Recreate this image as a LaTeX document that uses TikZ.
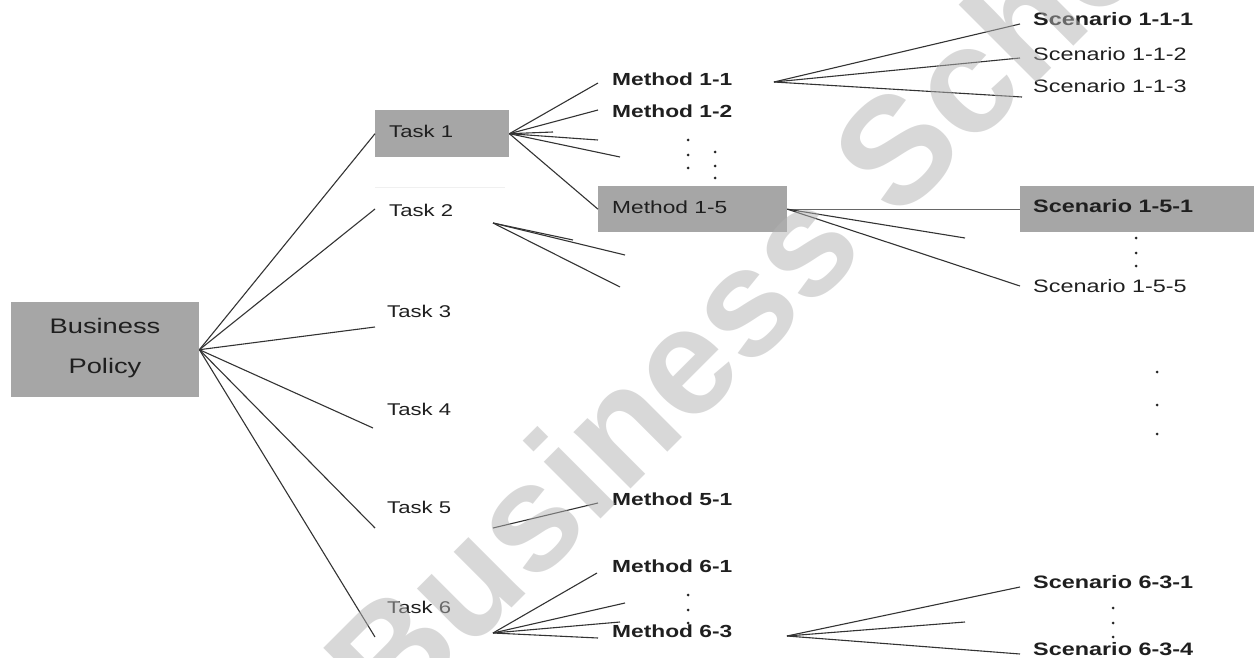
\documentclass[tikz,border=0pt]{standalone}
\usepackage{fontspec}
\setmainfont{Liberation Sans}[FakeStretch=1.3]
\newfontfamily\wmfont{Liberation Sans}
\begin{document}
\begin{tikzpicture}[x=1pt,y=-1pt,
  conn/.style={draw=black!80,line width=1.1pt},
  gbox/.style={fill=boxgray,draw=none,inner sep=0pt,anchor=north west},
  txt/.style={anchor=base west,inner sep=0pt,text=black!88},
  tasktxt/.style={txt,font=\fontsize{17}{17}\selectfont},
  methb/.style={txt,font=\fontsize{17.5}{17.5}\selectfont\bfseries},
  methn/.style={txt,font=\fontsize{17.5}{17.5}\selectfont},
  scenb/.style={txt,font=\fontsize{18}{18}\selectfont\bfseries},
  scenn/.style={txt,font=\fontsize{18}{18}\selectfont},
  dotc/.style={fill=black!85,draw=none,circle,inner sep=0pt,minimum size=3pt}
]
\definecolor{boxgray}{HTML}{A6A6A6}
\useasboundingbox (0,0) rectangle (1254,658);

% boxes
\node[gbox,minimum width=188pt,minimum height=95pt] (bp) at (11,302) {};
\node[gbox,minimum width=134pt,minimum height=47pt] (t1box) at (375,110) {};
\node[gbox,minimum width=189pt,minimum height=46pt] (m15box) at (598,186) {};
\node[gbox,minimum width=234pt,minimum height=46pt] (s151box) at (1020,186) {};
\draw[black!6,line width=1pt] (375,188) -- (505,188);

% texts
\node[inner sep=0pt,text=black!88,font=\fontsize{21}{21}\selectfont,anchor=base] (bptxt1) at (105,333) {Business};
\node[inner sep=0pt,text=black!88,font=\fontsize{21}{21}\selectfont,anchor=base] (bptxt2) at (105,373) {Policy};
\node[tasktxt] (t1) at (389,138) {Task 1};
\node[tasktxt] (t2) at (389,217) {Task 2};
\node[tasktxt] (t3) at (387,317) {Task 3};
\node[tasktxt] (t4) at (387,415) {Task 4};
\node[tasktxt] (t5) at (387,513) {Task 5};
\node[tasktxt] (t6) at (387,613) {Task 6};
\node[methb] (m11) at (612,86) {Method 1-1};
\node[methb] (m12) at (612,118) {Method 1-2};
\node[methn] (m15) at (612,214) {Method 1-5};
\node[methb] (m51) at (612,505) {Method 5-1};
\node[methb] (m61) at (612,572) {Method 6-1};
\node[methb] (m63) at (612,637) {Method 6-3};
\node[scenb] (s111) at (1033,26) {Scenario 1-1-1};
\node[scenn] (s112) at (1033,61) {Scenario 1-1-2};
\node[scenn] (s113) at (1033,93) {Scenario 1-1-3};
\node[scenb] (s151) at (1033,213) {Scenario 1-5-1};
\node[scenn] (s155) at (1033,292) {Scenario 1-5-5};
\node[scenb] (s631) at (1033,588) {Scenario 6-3-1};
\node[scenb] (s634) at (1033,655) {Scenario 6-3-4};

% coordinates for free ends
\coordinate (t2e) at (375,209);
\coordinate (t3e) at (375,327);
\coordinate (t4e) at (373,428);
\coordinate (t5e) at (375,528);
\coordinate (t6e) at (375,637);
\coordinate (a1) at (598,83);
\coordinate (a2) at (598,110);
\coordinate (a3) at (598,140);
\coordinate (a4) at (620,157);
\coordinate (a5) at (553,132);
\coordinate (o2) at (493,223);
\coordinate (b1) at (625,255);
\coordinate (b2) at (620,287);
\coordinate (b3) at (573,240);
\coordinate (o11) at (774,82);
\coordinate (c1) at (1020,24);
\coordinate (c2) at (1020,58);
\coordinate (c3) at (1022,97);
\coordinate (d2) at (965,238);
\coordinate (d3) at (1020,286);
\coordinate (o5) at (493,528);
\coordinate (e1) at (598,503);
\coordinate (o6) at (493,633);
\coordinate (f1) at (597,573);
\coordinate (f2) at (625,603);
\coordinate (f3) at (620,622);
\coordinate (f4) at (598,638);
\coordinate (o63) at (787,636);
\coordinate (g1) at (1020,587);
\coordinate (g2) at (965,622);
\coordinate (g3) at (1020,654);

% connectors
\foreach \e in {t1box.west,t2e,t3e,t4e,t5e,t6e} \draw[conn] (bp.east) -- (\e);
\foreach \e in {a1,a2,a3,a4,a5,m15box.west} \draw[conn] (t1box.east) -- (\e);
\foreach \e in {b1,b2,b3} \draw[conn] (o2) -- (\e);
\foreach \e in {c1,c2,c3} \draw[conn] (o11) -- (\e);
\draw[conn,draw=black!60] (m15box.east) -- (s151box.west);
\foreach \e in {d2,d3} \draw[conn] (m15box.east) -- (\e);
\draw[conn] (o5) -- (e1);
\foreach \e in {f1,f2,f3,f4} \draw[conn] (o6) -- (\e);
\foreach \e in {g1,g2,g3} \draw[conn] (o63) -- (\e);

% dots
\foreach \p in {(688,140),(688,155),(688,168),(715,152),(715,166),(715,178),
  (1136,238),(1136,253),(1136,266),(1157,372),(1157,405),(1157,434),
  (688,595),(688,610),(688,623),(1113,608),(1113,623),(1113,637)}
  \node[dotc] at \p {};

% watermark
\begin{scope}
\clip (0,0) rectangle (1254,658);
\node[rotate=45,anchor=base west,inner sep=0pt,text=black!30,text opacity=0.5,
  font=\wmfont\fontsize{152}{152}\selectfont\bfseries] (wm) at (390,730) {Business School};
\end{scope}
\end{tikzpicture}
\end{document}
